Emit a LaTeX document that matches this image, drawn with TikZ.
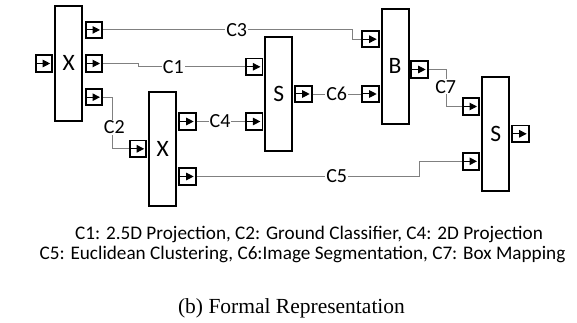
\documentclass[tikz,border=0pt]{standalone}
\usepackage{fontspec}
\setmainfont{Carlito}
\newfontfamily\captionserif{Liberation Serif}
\usetikzlibrary{arrows.meta}
\begin{document}
\begin{tikzpicture}[x=1pt,y=-1pt,
  block/.style={draw,line width=2pt,minimum width=27pt,minimum height=114.5pt,
    inner sep=0pt,font=\fontsize{23.5}{25}\selectfont},
  port/.style={draw,line width=1.9pt,minimum size=16.5pt,inner sep=0pt},
  wire/.style={draw=black!50,line width=0.9pt},
  tip/.style={line width=1pt,-{Triangle[length=7.5pt,width=7.5pt]}},
  lbl/.style={fill=white,inner sep=1pt,font=\fontsize{20}{22}\selectfont},
  legend/.style={anchor=base,inner sep=0pt,font=\fontsize{19.2}{20}\selectfont}]
\useasboundingbox (0,0) rectangle (577,323);

% blocks
\node[block] (x1) at (68.7,63.3) {X};
\node[block] (x2) at (162.8,149) {X};
\node[block] (s1) at (278.8,94) {S};
\node[block] (b)  at (395,66.3) {B};
\node[block] (s2) at (495.8,133.8) {S};

% ports
\node[port] (x1i)  at (44,63.5) {};
\node[port] (x1o1) at (93.8,29.9) {};
\node[port] (x1o2) at (93.8,63.5) {};
\node[port] (x1o3) at (93.8,97.2) {};
\node[port] (x2i)  at (138,148.8) {};
\node[port] (x2o1) at (187.5,121.5) {};
\node[port] (x2o2) at (187.5,176.5) {};
\node[port] (si1)  at (254.2,66.8) {};
\node[port] (si2)  at (254.2,121.5) {};
\node[port] (s1o)  at (303.5,94) {};
\node[port] (bi1)  at (370.5,39.2) {};
\node[port] (bi2)  at (370.5,94) {};
\node[port] (bo)   at (419.5,69.5) {};
\node[port] (s2i1) at (470.8,106.5) {};
\node[port] (s2i2) at (470.8,161.3) {};
\node[port] (s2o)  at (520.5,133.8) {};

\foreach \p in {x1i,x1o1,x1o2,x1o3,x2i,x2o1,x2o2,si1,si2,s1o,bi1,bi2,bo,s2i1,s2i2,s2o}
  \draw[tip] ([xshift=1.5pt]\p.west) -- ([xshift=-3pt]\p.east);

% connectors
\draw[wire] (x1o1.east) -- ++(249.3,0) |- (bi1.west);
\draw[wire] (x1o2.east) -- ++(35.3,0) |- (si1.west);
\draw[wire] (x1o3.east) -- ++(9.3,0) |- (x2i.west);
\draw[wire] (x2o1.east) -- (si2.west);
\draw[wire] (x2o2.east) -- ++(222.6,0) |- (s2i2.west);
\draw[wire] (s1o.east) -- (bi2.west);
\draw[wire] (bo.east) -- ++(17.7,0) |- (s2i1.west);

% connector labels
\node[lbl] (c3) at (236.7,30) {C3};
\node[lbl] (c1) at (173.3,66.8) {C1};
\node[lbl] (c2) at (114.3,127.3) {C2};
\node[lbl] (c4) at (220,121.5) {C4};
\node[lbl] (c5) at (336.7,176.5) {C5};
\node[lbl] (c6) at (336.7,94) {C6};
\node[lbl] (c7) at (445.7,86.7) {C7};

% legend and caption
\node[legend] (l1) at (309,239.4) {C1: 2.5D Projection, C2: Ground Classifier, C4: 2D Projection};
\node[legend] (l2) at (302.5,259) {C5: Euclidean Clustering, C6:Image Segmentation, C7: Box Mapping};
\node[anchor=base,inner sep=0pt,font=\captionserif\fontsize{21.5}{23}\selectfont] (cap) at (291.5,313) {(b) Formal Representation};
\end{tikzpicture}
\end{document}
